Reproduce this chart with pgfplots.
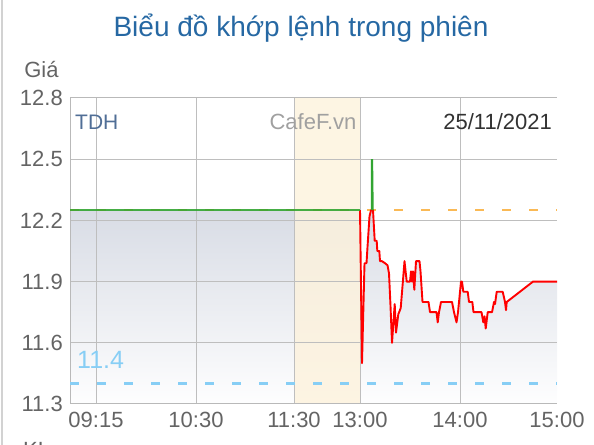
\documentclass[border=0pt]{standalone}
\usepackage{fontspec}
\setmainfont{Liberation Sans}
\usepackage{pgfplots}
\pgfplotsset{compat=1.18}
\definecolor{titleblue}{RGB}{38,104,163}
\definecolor{labelgray}{RGB}{100,100,100}
\definecolor{gridgray}{RGB}{190,190,190}
\definecolor{axisgray}{RGB}{185,185,185}
\definecolor{bordergray}{RGB}{210,210,210}
\definecolor{filltop}{RGB}{216,220,229}
\definecolor{beige}{RGB}{253,242,220}
\definecolor{refor}{RGB}{250,185,85}
\definecolor{floorblue}{RGB}{135,206,245}
\definecolor{upgreen}{RGB}{50,165,50}
\definecolor{tdhblue}{RGB}{80,110,150}
\definecolor{cafegray}{RGB}{160,160,160}
\definecolor{dategray}{RGB}{50,50,50}
\begin{document}
\begin{tikzpicture}
\begin{axis}[
  at={(70bp,41bp)}, anchor=south west,
  scale only axis, width=487bp, height=306bp,
  xmin=70, xmax=557, ymin=11.3, ymax=12.8,
  set layers,
  axis x line=box, axis y line=left,
  axis line style={-, draw=axisgray, line width=1bp},
  xtick={96,196,294,360,460}, xticklabels={09:15,10:30,11:30,13:00,14:00},
  extra x ticks={557}, extra x tick labels={15:00}, extra x tick style={grid=none},
  ytick={11.3,11.6,11.9,12.2,12.5,12.8},
  yticklabels={11.3,11.6,11.9,12.2,12.5,12.8},
  grid=major, grid style={gridgray, line width=1bp},
  major tick length=0pt,
  tick label style={font=\fontsize{22bp}{24bp}\selectfont, text=labelgray, inner sep=0pt},
  xticklabel style={anchor=north, yshift=-8bp},
  yticklabel style={anchor=east, xshift=-7bp},
]
% area under the price line
\addplot[on layer=axis background, draw=none, top color=filltop, bottom color=white!97!filltop] coordinates {
(70,11.3)(70,12.25)(360,12.25)(362,11.50)(364.5,11.99)(366.5,11.99)(367.5,12.07)(369.5,12.22)(371,12.25)(373,12.25)
(374.7,12.10)(376.7,12.10)(377.3,12.05)(379.3,12.05)(380,12.0)(382,12.0)(385,11.99)(387.5,11.98)(389,11.94)
(390.5,11.78)(392,11.60)(393.3,11.69)(394.7,11.79)(396,11.65)(398.3,11.74)(400.7,11.77)(402.7,11.89)(404.5,12.0)
(406.7,11.90)(410,11.90)(411,11.95)(412,11.90)(413,11.95)(414.3,11.86)(416,12.0)(419.5,12.0)(420.5,11.95)
(422.5,11.80)(428.5,11.80)(430,11.75)(436.5,11.75)(437.7,11.70)(439,11.75)(441,11.80)(452,11.80)(454,11.75)
(456.5,11.70)(458,11.75)(461,11.90)(462,11.90)(463.3,11.85)(467.7,11.85)(469,11.80)(472.3,11.80)(473.5,11.75)
(481.5,11.75)(483.3,11.70)(484.5,11.73)(485.7,11.67)(487.7,11.75)(492,11.75)(494,11.80)(495,11.79)(496.7,11.85)
(502.7,11.85)(505,11.80)(506,11.76)(506.7,11.80)(533,11.90)(557,11.90)(557,11.3)};
% lunch break band
\addplot[on layer=axis background, draw=none, fill=beige, fill opacity=0.8] coordinates {
(294,11.3)(294,12.8)(361,12.8)(361,11.3)};
% reference and floor lines
\addplot[refor, line width=2.2bp, dash pattern=on 9bp off 18bp] coordinates {(70,12.25)(557,12.25)};
\addplot[floorblue, line width=2.2bp, dash pattern=on 9bp off 18bp] coordinates {(70,11.4)(557,11.4)};
% price: red part
\addplot[red, line width=1.9bp, line join=round] coordinates {
(360,12.25)(362,11.50)(364.5,11.99)(366.5,11.99)(367.5,12.07)(369.5,12.22)(371,12.25)(373,12.25)
(374.7,12.10)(376.7,12.10)(377.3,12.05)(379.3,12.05)(380,12.0)(382,12.0)(385,11.99)(387.5,11.98)(389,11.94)
(390.5,11.78)(392,11.60)(393.3,11.69)(394.7,11.79)(396,11.65)(398.3,11.74)(400.7,11.77)(402.7,11.89)(404.5,12.0)
(406.7,11.90)(410,11.90)(411,11.95)(412,11.90)(413,11.95)(414.3,11.86)(416,12.0)(419.5,12.0)(420.5,11.95)
(422.5,11.80)(428.5,11.80)(430,11.75)(436.5,11.75)(437.7,11.70)(439,11.75)(441,11.80)(452,11.80)(454,11.75)
(456.5,11.70)(458,11.75)(461,11.90)(462,11.90)(463.3,11.85)(467.7,11.85)(469,11.80)(472.3,11.80)(473.5,11.75)
(481.5,11.75)(483.3,11.70)(484.5,11.73)(485.7,11.67)(487.7,11.75)(492,11.75)(494,11.80)(495,11.79)(496.7,11.85)
(502.7,11.85)(505,11.80)(506,11.76)(506.7,11.80)(533,11.90)(557,11.90)};
% price: green part (at or above reference)
\addplot[upgreen, line width=2.2bp, opacity=0.9] coordinates {(70,12.25)(360,12.25)};
\addplot[upgreen, line width=2.2bp] coordinates {(372,12.25)(372,12.5)(372.6,12.25)};
\end{axis}
\begin{scope}[x=1bp,y=1bp]
\draw[color=bordergray, line width=1.2bp] (2,0) -- (2,445);
\node[anchor=base, inner sep=0pt, font=\fontsize{28bp}{30bp}\selectfont, text=titleblue] at (301,408) {Biểu đồ khớp lệnh trong phiên};
\node[anchor=base, inner sep=0pt, font=\fontsize{22bp}{24bp}\selectfont, text=labelgray] at (41.5,367) {Giá};
\node[anchor=base west, inner sep=0pt, font=\fontsize{21bp}{23bp}\selectfont, text=tdhblue] at (75,315) {TDH};
\node[anchor=base, inner sep=0pt, font=\fontsize{22bp}{24bp}\selectfont, text=cafegray] at (313,315) {CafeF.vn};
\node[anchor=base east, inner sep=0pt, font=\fontsize{22bp}{24bp}\selectfont, text=dategray] at (552,315) {25/11/2021};
\node[anchor=base west, inner sep=0pt, font=\fontsize{25bp}{27bp}\selectfont, text=floorblue] at (77,76) {11.4};
\node[anchor=north west, inner sep=0pt, font=\fontsize{22bp}{24bp}\selectfont, text=labelgray] at (23,3) {KL};
\pgfresetboundingbox
\path[use as bounding box] (0,0) rectangle (594,445);
\end{scope}
\end{tikzpicture}
\end{document}
